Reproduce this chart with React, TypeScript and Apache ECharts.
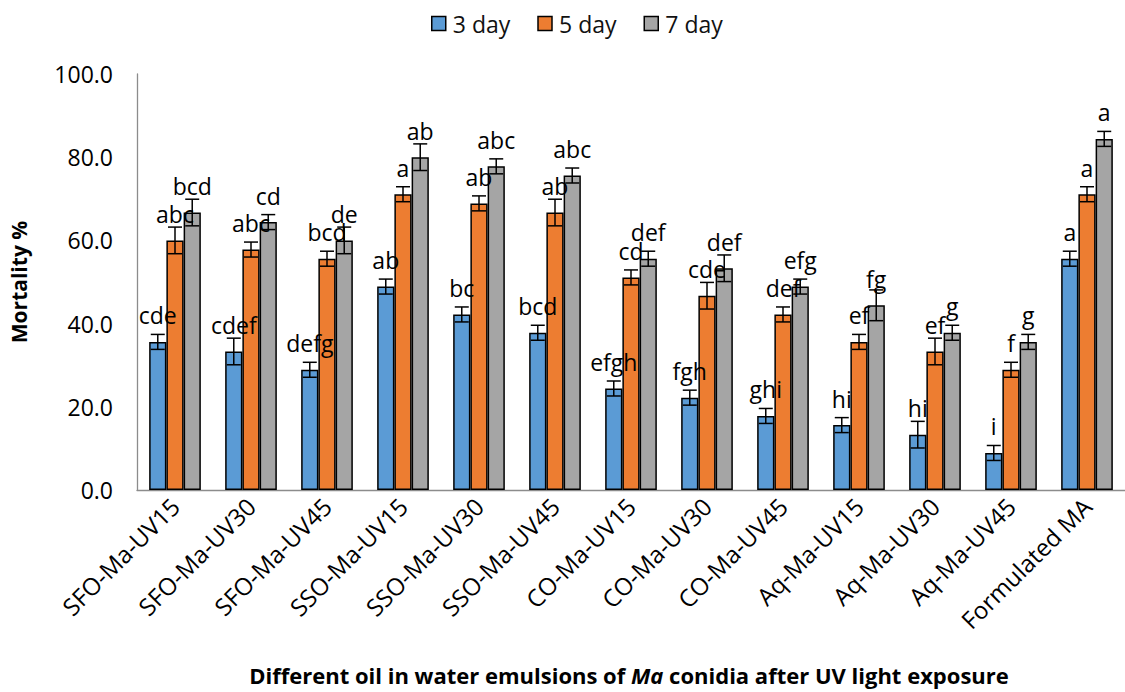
import React, { useEffect, useRef } from "react";
import * as echarts from "echarts";

const categories = [
  "SFO-Ma-UV15", "SFO-Ma-UV30", "SFO-Ma-UV45", "SSO-Ma-UV15", "SSO-Ma-UV30", "SSO-Ma-UV45",
  "CO-Ma-UV15", "CO-Ma-UV30", "CO-Ma-UV45", "Aq-Ma-UV15", "Aq-Ma-UV30", "Aq-Ma-UV45", "Formulated MA",
];
const seriesNames = ["3 day", "5 day", "7 day"];
const day3 = [35.6, 33.3, 28.9, 48.9, 42.2, 37.8, 24.4, 22.2, 17.8, 15.6, 13.3, 8.9, 55.6];
const day5 = [60.0, 57.8, 55.6, 71.1, 68.9, 66.7, 51.1, 46.7, 42.2, 35.6, 33.3, 28.9, 71.1];
const day7 = [66.7, 64.4, 60.0, 80.0, 77.8, 75.6, 55.6, 53.3, 48.9, 44.4, 37.8, 35.6, 84.4];
const err3 = [1.8, 3.2, 1.8, 1.8, 1.8, 1.8, 1.8, 1.8, 1.8, 1.8, 3.2, 1.8, 1.8];
const err5 = [3.2, 1.8, 1.8, 1.8, 1.8, 3.2, 1.8, 3.2, 1.8, 1.8, 3.2, 1.8, 1.8];
const err7 = [3.2, 1.8, 3.2, 3.2, 1.8, 1.8, 1.8, 3.2, 1.8, 3.7, 1.8, 1.8, 1.8];
const letters3 = ["cde", "cdef", "defg", "ab", "bc", "bcd", "efgh", "fgh", "ghi", "hi", "hi", "i", "a"];
const letters5 = ["abc", "abc", "bcd", "a", "ab", "ab", "cd", "cde", "def", "ef", "ef", "f", "a"];
const letters7 = ["bcd", "cd", "de", "ab", "abc", "abc", "def", "def", "efg", "fg", "g", "g", "a"];
const yTicks = { min: 0, max: 100, interval: 20 };

const colors = ["#5B9BD5", "#ED7D31", "#A5A5A5"];
const FONT = "'Open Sans', 'Noto Sans', sans-serif";
const CAT_GAP = 0.32;

export default function App() {
  const ref = useRef<HTMLDivElement>(null);
  useEffect(() => {
    if (!ref.current) return;
    const chart = echarts.init(ref.current, null, { renderer: "svg" });
    const values = [day3, day5, day7];
    const errs = [err3, err5, err7];
    const lets = [letters3, letters5, letters7];

    const barSeries = values.map((vals, si) => ({
      name: seriesNames[si],
      type: "bar",
      data: vals,
      barGap: "0%",
      barCategoryGap: CAT_GAP * 100 + "%",
      itemStyle: { color: colors[si], borderColor: "#000", borderWidth: 1.5 },
      label: {
        show: true,
        position: "top",
        distance: 15,
        fontFamily: FONT,
        fontSize: 23,
        color: "#000",
        formatter: (p: any) => lets[si][p.dataIndex],
      },
      z: 2,
    }));

    const errSeries = values.map((vals, si) => ({
      type: "custom",
      name: seriesNames[si] + " err",
      data: vals.map((v, i) => [i, v, errs[si][i]]),
      z: 3,
      silent: true,
      renderItem: (params: any, api: any) => {
        const idx = api.value(0);
        const v = api.value(1);
        const e = api.value(2);
        const band = api.size([1, 0])[0];
        const bw = (band * (1 - CAT_GAP)) / 3;
        const cx = api.coord([idx, v])[0] + (si - 1) * bw;
        const yHi = api.coord([idx, v + e])[1];
        const yLo = api.coord([idx, v - e])[1];
        const half = 7;
        const st = { stroke: "#000", lineWidth: 1.5 };
        return {
          type: "group",
          children: [
            { type: "line", shape: { x1: cx, y1: yHi, x2: cx, y2: yLo }, style: st },
            { type: "line", shape: { x1: cx - half, y1: yHi, x2: cx + half, y2: yHi }, style: st },
            { type: "line", shape: { x1: cx - half, y1: yLo, x2: cx + half, y2: yLo }, style: st },
          ],
        };
      },
    }));

    chart.setOption({
      animation: false,
      color: colors,
      textStyle: { fontFamily: FONT },
      legend: {
        data: seriesNames,
        top: 7,
        left: 426,
        icon: "rect",
        itemWidth: 14,
        itemHeight: 14,
        itemGap: 27,
        itemStyle: { borderColor: "#000", borderWidth: 1.5 },
        textStyle: { fontFamily: FONT, fontSize: 23, color: "#111", padding: [0, 0, 0, 2] },
      },
      grid: { left: 128, top: 74, width: 1003, height: 416, containLabel: false },
      xAxis: {
        type: "category",
        data: categories,
        axisLine: { lineStyle: { color: "#8c8c8c", width: 1.3 } },
        axisTick: { show: false },
        axisLabel: {
          rotate: 45,
          interval: 0,
          margin: 12,
          fontFamily: FONT,
          fontSize: 24,
          color: "#000",
        },
      },
      yAxis: {
        type: "value",
        min: yTicks.min,
        max: yTicks.max,
        interval: yTicks.interval,
        name: "Mortality %",
        nameLocation: "middle",
        nameGap: 108,
        nameTextStyle: { fontFamily: FONT, fontSize: 21, fontWeight: "bold", color: "#000" },
        axisLine: { show: true, lineStyle: { color: "#8c8c8c", width: 1.3 } },
        axisTick: { show: false },
        splitLine: { show: false },
        axisLabel: {
          margin: 24,
          fontFamily: FONT,
          fontSize: 23,
          color: "#000",
          formatter: (v: number) => v.toFixed(1),
        },
      },
      graphic: [
        {
          type: "text",
          x: 629,
          y: 675,
          style: {
            text: "{b|Different oil in water emulsions of }{i|Ma}{b| conidia after UV light exposure}",
            align: "center",
            verticalAlign: "middle",
            rich: {
              b: { fontFamily: FONT, fontSize: 22, fontWeight: "bold", fill: "#000" },
              i: { fontFamily: FONT, fontSize: 22, fontWeight: "bold", fontStyle: "italic", fill: "#000" },
            },
          },
        },
      ],
      series: [...barSeries, ...errSeries],
    });
    return () => chart.dispose();
  }, []);
  return (
    <div
      ref={ref}
      style={{ position: "fixed", left: 0, top: 0, width: 1125, height: 692, background: "#fff" }}
    />
  );
}
